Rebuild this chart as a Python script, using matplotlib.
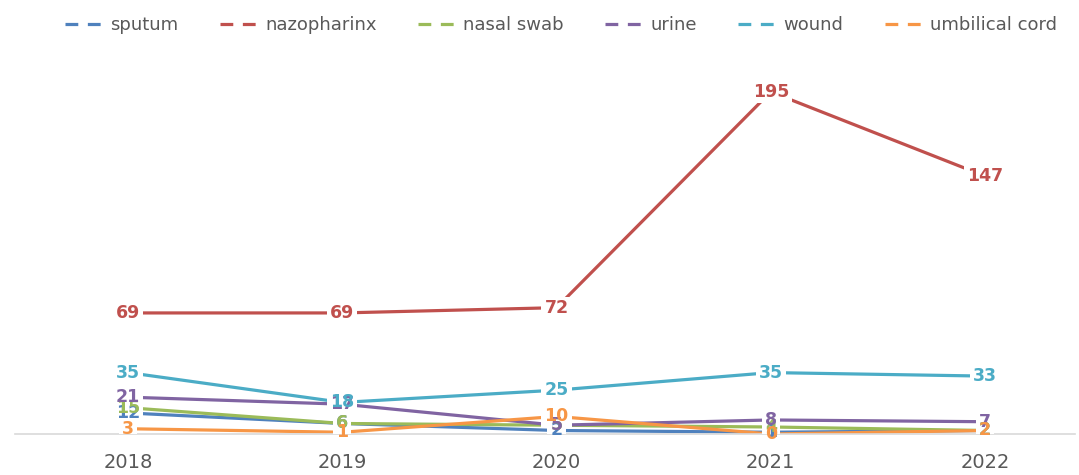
import matplotlib.pyplot as plt
from matplotlib.lines import Line2D
from matplotlib.patches import Rectangle

years = ["2018", "2019", "2020", "2021", "2022"]
sputum = [12, 6, 2, 1, 2]
nazopharinx = [69, 69, 72, 195, 147]
nasal_swab = [15, 6, 5, 4, 2]
urine = [21, 17, 5, 8, 7]
wound = [35, 18, 25, 35, 33]
umbilical_cord = [3, 1, 10, 0, 2]

series = [
    ("sputum", sputum, "#4F81BD"),
    ("nazopharinx", nazopharinx, "#C0504D"),
    ("nasal swab", nasal_swab, "#9BBB59"),
    ("urine", urine, "#8064A2"),
    ("wound", wound, "#4BACC6"),
    ("umbilical cord", umbilical_cord, "#F79646"),
]

fig = plt.figure(figsize=(10.79, 4.75), dpi=100)
ax = fig.add_axes([0, 1 - 434 / 475, 1, 386 / 475])
x = list(range(len(years)))

for name, vals, col in series:
    ax.plot(x, vals, color=col, lw=2.3, solid_capstyle="butt")

ax.set_xlim(-128 / 214.25, (1079 - 128) / 214.25)
ax.set_ylim(0, 220)

labels = []
for name, vals, col in series:
    for xi, v in zip(x, vals):
        labels.append(ax.text(xi, v, str(v), color=col, fontsize=12.5,
                              fontweight="bold", ha="center", va="center",
                              zorder=5))

# white boxes behind the labels so the lines break around them
fig.canvas.draw()
inv = ax.transData.inverted()
for t in labels:
    bb = t.get_window_extent().expanded(1.0, 0.9).padded(3)
    (x0, y0), (x1, y1) = inv.transform([[bb.x0, bb.y0], [bb.x1, bb.y1]])
    ax.add_patch(Rectangle((x0, y0), x1 - x0, y1 - y0, fc="white",
                           ec="none", zorder=4))

ax.set_xticks(x)
ax.set_xticklabels(years, fontsize=14, color="#595959")
ax.tick_params(axis="x", length=0, pad=14)
ax.set_yticks([])
for s in ["top", "right", "left"]:
    ax.spines[s].set_visible(False)
ax.spines["bottom"].set_color("#D9D9D9")
ax.spines["bottom"].set_linewidth(1.2)
ax.spines["bottom"].set_bounds((15 - 128) / 214.25, (1075 - 128) / 214.25)

handles = [Line2D([], [], color=c, lw=2.3, dashes=(4, 3)) for _, _, c in series]
fig.legend(handles, [n for n, _, _ in series], loc="upper center",
           bbox_to_anchor=(0.52, 1.0), ncol=6, frameon=False, fontsize=13,
           labelcolor="#595959", handlelength=2.4, handletextpad=0.1,
           columnspacing=2.3)

fig.savefig("out.png", dpi=100)
